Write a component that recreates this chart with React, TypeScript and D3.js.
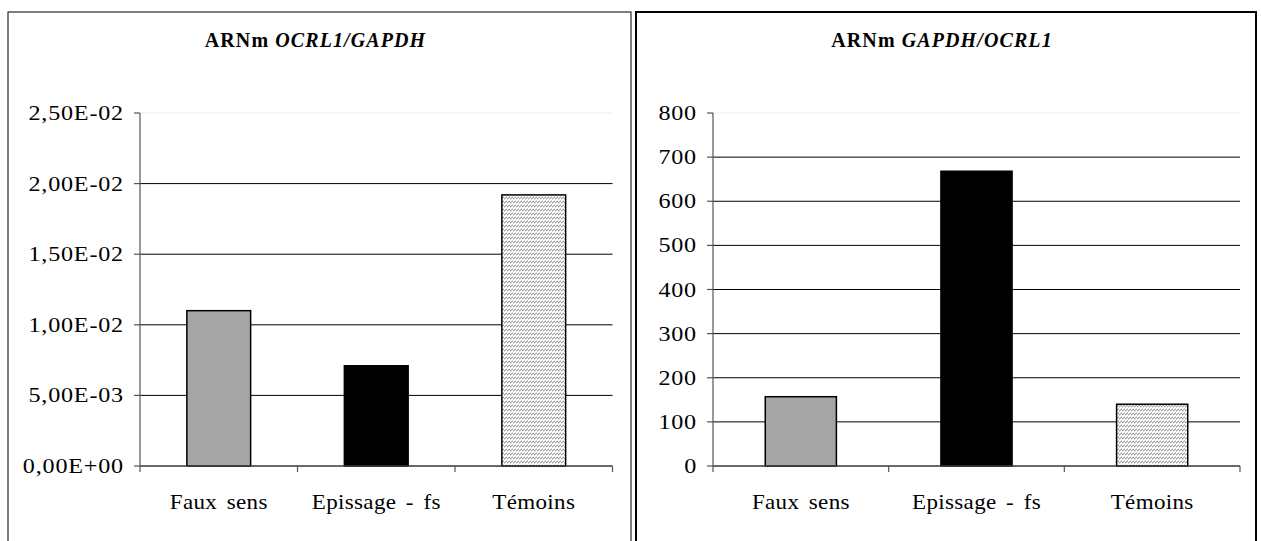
import React from "react";
import * as d3 from "d3";

const categories = ["Faux sens", "Epissage - fs", "Témoins"];
const leftValues = [0.0110, 0.0071, 0.0192];
const rightValues = [157, 668, 140];
const leftTicks = [0, 0.005, 0.01, 0.015, 0.02, 0.025];
const leftTickLabels = ["0,00E+00", "5,00E-03", "1,00E-02", "1,50E-02", "2,00E-02", "2,50E-02"];
const rightTicks = [0, 100, 200, 300, 400, 500, 600, 700, 800];
const rightTickLabels = ["0", "100", "200", "300", "400", "500", "600", "700", "800"];

const FONT = "'Liberation Serif', 'DejaVu Serif', serif";

type PanelProps = {
  x0: number; x1: number; frameW: number;
  axisX: number; axisEnd: number;
  ticks: number[]; tickLabels: string[]; values: number[];
  maxV: number; titleRest: string;
};

const fills = ["#a5a5a5", "#000000", "url(#hatch)"];

function Panel(p: PanelProps) {
  const y = d3.scaleLinear().domain([0, p.maxV]).range([466, 113]);
  const x = d3.scaleBand<string>().domain(categories).range([p.axisX, p.axisEnd]).padding(0);
  const bw = x.bandwidth() * 0.405;
  const cx = (p.x0 + p.x1) / 2;
  return (
    <g style={{ fontFamily: FONT }}>
      <rect x={p.x0} y={12} width={p.x1 - p.x0} height={600} fill="white" stroke="#000" strokeWidth={p.frameW} />
      <text x={cx - 4} y={47} textAnchor="middle" fontSize={20} fontWeight="bold" letterSpacing={1.1}>
        ARNm <tspan fontStyle="italic">{p.titleRest}</tspan>
      </text>
      {p.ticks.map((t, i) => (
        <line key={"g" + i} x1={p.axisX} x2={p.axisEnd} y1={y(t)} y2={y(t)}
          stroke={i === p.ticks.length - 1 ? "#eeeeee" : "#000"} strokeWidth={1} />
      ))}
      {categories.map((c, i) => (
        <rect key={"b" + i} x={x(c)! + (x.bandwidth() - bw) / 2} y={y(p.values[i])}
          width={bw} height={y(0) - y(p.values[i])} fill={fills[i]} stroke="#000" strokeWidth={1.5} />
      ))}
      <line x1={p.axisX} x2={p.axisX} y1={y(p.maxV)} y2={472} stroke="#555" strokeWidth={1.2} />
      <line x1={p.axisX} x2={p.axisEnd} y1={y(0)} y2={y(0)} stroke="#555" strokeWidth={1.2} />
      {p.ticks.map((t, i) => (
        <g key={"t" + i}>
          <line x1={p.axisX - 6} x2={p.axisX} y1={y(t)} y2={y(t)} stroke="#555" strokeWidth={1.2} />
          <text transform={`translate(${p.axisX - 16},${y(t) + 7}) scale(1.15,1)`} textAnchor="end"
            fontSize={21} letterSpacing={0.7}>
            {p.tickLabels[i]}
          </text>
        </g>
      ))}
      {categories.map((c, i) => (
        <g key={"c" + i}>
          <line x1={x(c)! + x.bandwidth()} x2={x(c)! + x.bandwidth()} y1={y(0)} y2={472} stroke="#555" strokeWidth={1.2} />
          <text transform={`translate(${x(c)! + x.bandwidth() / 2},509) scale(1.15,1)`} textAnchor="middle"
            fontSize={20} letterSpacing={0.3} wordSpacing={3}>
            {c}
          </text>
        </g>
      ))}
    </g>
  );
}

export default function App() {
  return (
    <svg width={1261} height={541} style={{ position: "absolute", left: 0, top: 0 }}>
      <defs>
        <pattern id="hatch" width={3} height={4} patternUnits="userSpaceOnUse">
          <rect width={3} height={4} fill="#ffffff" />
          <path d="M0,3.2 L3,0.8" stroke="#7a7a7a" strokeWidth={1} />
        </pattern>
      </defs>
      <rect width={1261} height={541} fill="white" />
      <Panel x0={8} x1={631} frameW={1} axisX={140} axisEnd={612.5} ticks={leftTicks}
        tickLabels={leftTickLabels} values={leftValues} maxV={0.025} titleRest="OCRL1/GAPDH" />
      <Panel x0={636} x1={1256} frameW={2} axisX={713} axisEnd={1240} ticks={rightTicks}
        tickLabels={rightTickLabels} values={rightValues} maxV={800} titleRest="GAPDH/OCRL1" />
    </svg>
  );
}
